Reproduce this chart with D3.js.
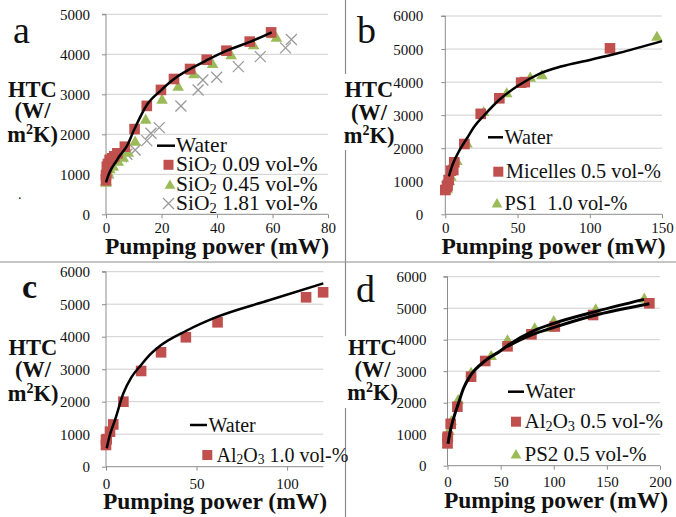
<!DOCTYPE html>
<html><head><meta charset="utf-8">
<script src="https://cdn.jsdelivr.net/npm/d3@7"></script>
<style>body{margin:0;background:#fff}svg{display:block}text{white-space:pre}</style>
</head><body>
<svg id="c" width="676" height="517"></svg>
<script>
// ---------- DATA ----------
// Panel a
const waterA = [[0,800],[1,1000],[2,1150],[3.2,1275],[5,1470],[7.4,1690],[10.2,2125],[14.7,2733],[19.8,3100],[24.5,3383],[30.3,3633],[36.5,3858],[43.5,4090],[52.1,4317],[59.7,4550]];
const sio2_009 = [[0,850],[0,980],[0.3,1190],[0.7,1260],[1.3,1360],[2.2,1400],[3,1450],[4.1,1525],[6.8,1690],[10.3,2130],[14.7,2710],[19.8,3110],[24.5,3383],[30.3,3633],[36.3,3865],[43.4,4090],[51.8,4317],[59.5,4548]];
const sio2_045 = [[0,775],[0.2,985],[0.8,1025],[1.4,1108],[2.6,1180],[4.4,1300],[6.2,1400],[8,1525],[10.5,1800],[14.3,2350],[20.2,2850],[26,3175],[30.9,3567],[31.7,3483],[38.4,3740],[45.1,3958],[53.2,4208],[60.1,4483],[61.4,4400]];
const sio2_181 = [[0,858],[0.8,1025],[2,1233],[3.9,1358],[5.6,1440],[7.5,1500],[10.5,1608],[14.7,1842],[16.2,2025],[19.2,2167],[27,2708],[33.2,3108],[34.9,3358],[39.9,3425],[47.7,3692],[55.6,3942],[64.7,4160],[66.8,4370]];
// Panel b
const waterB = [[2.5,1150],[5,1500],[10,1950],[15,2300],[20,2650],[27,3000],[37,3450],[50,3880],[65,4250],[80,4470],[100,4670],[120,4880],[150,5240]];
const micelles05 = [[0,735],[1.2,835],[1.6,887],[2.3,1038],[3.9,1319],[5.5,1340],[6.2,1573],[13.2,2127],[24.5,3040],[37.4,3510],[52.5,3982],[55,4000],[114,5022]];
const ps1_10 = [[0,684],[1.2,735],[1.6,817],[2.8,987],[3.9,1120],[8,1592],[15,2120],[26.5,3075],[42.5,3640],[58.8,4115],[66.9,4185],[146.5,5355]];
// Panel c
const waterC = [[0.4,570],[2,950],[5,1440],[9.6,2260],[14,2750],[19.4,3130],[24,3430],[29.9,3720],[44.1,4175],[61.6,4615],[90,5120],[120,5640]];
const al2o3_10 = [[0,668],[0,822],[0.4,850],[2.2,1077],[4,1300],[9.6,2000],[19.4,2945],[30.4,3520],[44.1,3982],[61.6,4443],[110.5,5212],[119.9,5366]];
// Panel d
const waterD1 = [[0.5,700],[2,1000],[4,1300],[7,1650],[10,1950],[15,2450],[22,2880],[35,3320],[50,3650],[56,3800],[82,4300],[100,4520],[140,4900],[185,5280]];
const waterD2 = [[56,3780],[79,4150],[101,4400],[137,4760],[190,5140]];
const al2o3_05 = [[0,711],[0,870],[0.3,921],[3,1330],[9.3,1873],[22.2,2825],[35.5,3324],[56.5,3790],[79,4171],[101,4420],[137,4784],[190,5156]];
const ps2_05 = [[0,660],[0,816],[1.4,1079],[3.6,1397],[10,2063],[22.2,2933],[41.1,3460],[56.5,3959],[82.1,4340],[96.9,4362],[100,4571],[139.5,4943],[185.2,5283]];

// tick labels
const ticksXa = [0,20,40,60,80];
const ticksXb = [0,50,100,150];
const ticksXc = [0,50,100];
const ticksXd = [0,50,100,150,200];
const ticksY5 = [0,1000,2000,3000,4000,5000];
const ticksY6 = [0,1000,2000,3000,4000,5000,6000];

// ---------- DRAW ----------
const FONT = "'Liberation Serif','Times New Roman',Times,serif";
const RED = "#c0504d", GREEN = "#9bbb59", GRAY = "#9a9a9a";
const svg = d3.select("#c");
svg.append("rect").attr("width",676).attr("height",517).attr("fill","#fff");

// dividers
svg.append("line").attr("x1",345.5).attr("x2",345.5).attr("y1",0).attr("y2",517).attr("stroke","#8c8c8c").attr("stroke-width",1.2);
svg.append("line").attr("x1",0).attr("x2",676).attr("y1",262).attr("y2",262).attr("stroke","#8c8c8c").attr("stroke-width",1.2);

const panels = [
 {letter:"a", lx:13, ly:43, lsize:38, lbold:false, px:[106,328], py:[214.3,14.3], xd:[0,80], yd:[0,5000], xt:ticksXa, yt:ticksY5, ylgap:16, xlb:233.5,
  title:{cx:32.5, ys:[96.7,118.3,141.7]}, xtitle:{cx:217, y:253.5}, mask:null, lfs:21.5,
  lines:[waterA], sq:[sio2_009], tri:[sio2_045], xs:[sio2_181], lw:2.5,
  legend:{line:[157,175,145.7], tx:176, items:[{t:"Water",y:145.7,type:"line"},{t:["SiO","2"," 0.09 vol-%"],y:164.8,type:"sq",mx:168.5},{t:["SiO","2"," 0.45 vol-%"],y:184.6,type:"tri",mx:170},{t:["SiO","2"," 1.81 vol-%"],y:203.5,type:"x",mx:168.5}]}},
 {letter:"b", lx:357, ly:43, lsize:38, lbold:false, px:[445.3,662], py:[214.3,16], xd:[0,150], yd:[0,6000], xt:ticksXb, yt:ticksY6, ylgap:22, xlb:233.5,
  title:{cx:369, ys:[96.7,120,143.3]}, xtitle:{cx:553.5, y:253.5}, mask:[338,74,62,76], lfs:20.3,
  lines:[waterB], sq:[micelles05], tri:[ps1_10], xs:[], lw:2.5,
  legend:{line:[488,503,137.3], tx:504.5, items:[{t:"Water",y:137.3,type:"line"},{t:["Micelles 0.5 vol-%"],y:171.7,type:"sq",mx:498.3,tx:506},{t:["PS1  1.0 vol-%"],y:203.3,type:"tri",mx:497}]}},
 {letter:"c", lx:22, ly:298, lsize:34, lbold:true, px:[106,323.3], py:[466.7,271.7], xd:[0,120], yd:[0,6000], xt:ticksXc, yt:ticksY6, ylgap:16, xlb:489.5,
  title:{cx:33, ys:[355,376.7,401]}, xtitle:{cx:215, y:509}, mask:null, lfs:20,
  lines:[waterC], sq:[al2o3_10], tri:[], xs:[], lw:2.5,
  legend:{line:[190,207,425], tx:208.5, items:[{t:"Water",y:425,type:"line"},{t:["Al","2","O","3"," 1.0 vol-%"],y:455,type:"sq",mx:207.3,tx:216.5}]}},
 {letter:"d", lx:356, ly:301.5, lsize:38, lbold:false, px:[447.5,660], py:[465.7,276.7], xd:[0,200], yd:[0,6000], xt:ticksXd, yt:ticksY6, ylgap:21, xlb:487.5,
  title:{cx:372.5, ys:[355,376.7,400]}, xtitle:{cx:556, y:507.5}, mask:[338,336,64,72], lfs:21,
  lines:[waterD1, waterD2], sq:[al2o3_05], tri:[ps2_05], xs:[], lw:3,
  legend:{line:[508,524,391.7], tx:525.5, items:[{t:"Water",y:391.7,type:"line"},{t:["Al","2","O","3"," 0.5 vol-%"],y:421.7,type:"sq",mx:516,tx:524.5},{t:["PS2 0.5 vol-%"],y:454.3,type:"tri",mx:516,tx:524.5}]}}
];

function addRich(sel, parts, size){
  let prevSub = false;
  parts.forEach(p=>{
    const isSub = /^[0-9]$/.test(p);
    const ts = sel.append("tspan").text(p);
    if(isSub){ ts.attr("font-size", size*0.68).attr("dy", size*0.12); }
    else if(prevSub){ ts.attr("dy", -size*0.12); }
    prevSub = isSub;
  });
}

panels.forEach(P=>{
  const g = svg.append("g");
  if(P.mask) g.append("rect").attr("x",P.mask[0]).attr("y",P.mask[1]).attr("width",P.mask[2]).attr("height",P.mask[3]).attr("fill","#fff");
  const x = d3.scaleLinear().domain(P.xd).range(P.px);
  const y = d3.scaleLinear().domain(P.yd).range(P.py);
  // grid
  g.selectAll(".grid").data(P.yt.filter(v=>v>0)).enter().append("line")
    .attr("x1",P.px[0]).attr("x2",P.px[1]).attr("y1",d=>y(d)).attr("y2",d=>y(d))
    .attr("stroke","#cfcfcf").attr("stroke-width",1);
  // y axis
  const ya = d3.axisLeft(y).tickValues(P.yt).tickSize(4).tickPadding(P.ylgap-4).tickFormat(d3.format("d"));
  const yg = g.append("g").attr("transform",`translate(${P.px[0]},0)`).call(ya);
  yg.select(".domain").attr("stroke","#8c8c8c").attr("d",`M-4,${P.py[1]}H0V${P.py[0]}`);
  yg.selectAll(".tick line").attr("stroke","#8c8c8c");
  yg.selectAll(".tick text").attr("font-family",FONT).attr("font-size",15).attr("fill","#111").attr("dy","0.33em");
  // x axis
  const xa = d3.axisBottom(x).tickValues(P.xt).tickSize(4).tickPadding(4).tickFormat(d3.format("d"));
  const xg = g.append("g").attr("transform",`translate(0,${P.py[0]})`).call(xa);
  xg.select(".domain").attr("stroke","#8c8c8c").attr("d",`M${P.px[0]},0H${P.px[1]}`);
  xg.selectAll(".tick line").attr("stroke","#8c8c8c");
  xg.selectAll(".tick text").attr("font-family",FONT).attr("font-size",15).attr("fill","#111")
    .attr("dy",null).attr("y",P.xlb-P.py[0]);
  // markers
  P.xs.forEach(s=>{
    g.selectAll(null).data(s).enter().append("path")
      .attr("transform",d=>`translate(${x(d[0])},${y(d[1])})`)
      .attr("d","M-5.5,-5.5L5.5,5.5M-5.5,5.5L5.5,-5.5").attr("stroke",GRAY).attr("stroke-width",1.3).attr("fill","none");
  });
  P.tri.forEach(s=>{
    g.selectAll(null).data(s).enter().append("path")
      .attr("transform",d=>`translate(${x(d[0])},${y(d[1])})`)
      .attr("d",d3.symbol(d3.symbolTriangle,58)).attr("fill",GREEN);
  });
  P.sq.forEach(s=>{
    g.selectAll(null).data(s).enter().append("rect")
      .attr("x",d=>x(d[0])-5.3).attr("y",d=>y(d[1])-5.3).attr("width",10.6).attr("height",10.6).attr("fill",RED);
  });
  // water lines
  const lg = d3.line().x(d=>x(d[0])).y(d=>y(d[1])).curve(d3.curveMonotoneX);
  P.lines.forEach(s=>{
    g.append("path").attr("d",lg(s)).attr("fill","none").attr("stroke","#000").attr("stroke-width",P.lw).attr("stroke-linejoin","round");
  });
  // letter
  g.append("text").attr("x",P.lx).attr("y",P.ly).text(P.letter).attr("font-family",FONT)
    .attr("font-size",P.lsize).attr("font-weight",P.lbold?"bold":"normal").attr("fill","#111");
  // y title
  const yt = g.append("text").attr("font-family",FONT).attr("font-weight","bold").attr("font-size",22.5).attr("text-anchor","middle").attr("fill","#111");
  yt.append("tspan").attr("x",P.title.cx).attr("y",P.title.ys[0]).text("HTC");
  yt.append("tspan").attr("x",P.title.cx).attr("y",P.title.ys[1]).text("(W/");
  const t3 = yt.append("tspan").attr("x",P.title.cx).attr("y",P.title.ys[2]);
  t3.text("m");
  yt.append("tspan").attr("font-size",14).attr("dy",-8).text("2");
  yt.append("tspan").attr("dy",8).text("K)");
  // x title
  g.append("text").attr("x",P.xtitle.cx).attr("y",P.xtitle.y).attr("text-anchor","middle")
    .attr("font-family",FONT).attr("font-weight","bold").attr("font-size",23.5).attr("fill","#111").text("Pumping power (mW)");
  // legend
  const L = P.legend;
  L.items.forEach(it=>{
    if(it.type==="line"){
      g.append("line").attr("x1",L.line[0]).attr("x2",L.line[1]).attr("y1",it.y).attr("y2",it.y).attr("stroke","#000").attr("stroke-width",2.5);
      g.append("text").attr("x",L.tx).attr("y",it.y+6.5).attr("font-family",FONT).attr("font-size",P.lfs).attr("fill","#111").text(it.t);
      return;
    }
    if(it.type==="sq") g.append("rect").attr("x",it.mx-5).attr("y",it.y-5).attr("width",10).attr("height",10).attr("fill",RED);
    if(it.type==="tri") g.append("path").attr("transform",`translate(${it.mx},${it.y+1})`).attr("d",d3.symbol(d3.symbolTriangle,50)).attr("fill",GREEN);
    if(it.type==="x") g.append("path").attr("transform",`translate(${it.mx},${it.y})`).attr("d","M-5.5,-5.5L5.5,5.5M-5.5,5.5L5.5,-5.5").attr("stroke",GRAY).attr("stroke-width",1.3);
    const tx = it.tx!==undefined ? it.tx : L.tx;
    const te = g.append("text").attr("x",tx).attr("y",it.y+6.5).attr("font-family",FONT).attr("font-size",P.lfs).attr("fill","#111");
    addRich(te, it.t, P.lfs);
  });
});
// stray dot in panel a
svg.append("text").attr("x",18).attr("y",199).attr("font-family",FONT).attr("font-size",14).attr("fill","#111").text(".");
</script>
</body></html>
